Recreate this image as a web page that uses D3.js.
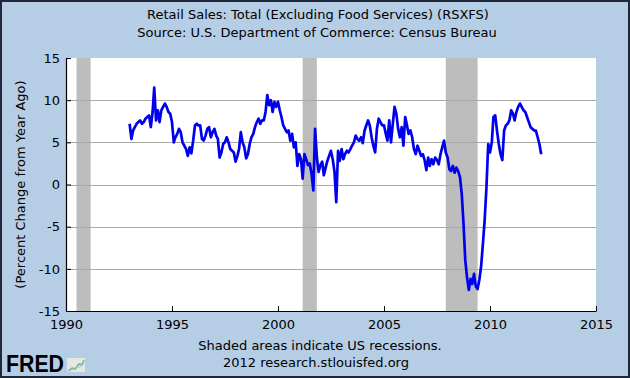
<!DOCTYPE html>
<html>
<head>
<meta charset="utf-8">
<script src="https://cdn.jsdelivr.net/npm/d3@7"></script>
<style>
  body { margin: 0; padding: 0; background: #ffffff; }
  text { font-family: "DejaVu Sans", Verdana, sans-serif; fill: #000000; }
</style>
</head>
<body>
<div id="chart"></div>
<script>
// monthly data starts Jan 1993
var startYear = 1993;

// percent change from year ago, one row per year
var pctChange = [
  7.2, 5.4, 6.4, 6.8, 7.2, 7.4, 7.6, 7.2, 7.4, 7.8, 8.0, 8.2,        // 1993
  6.8, 8.6, 11.5, 7.6, 8.8, 7.4, 8.8, 9.2, 9.6, 9.2, 8.6, 8.4,       // 1994
  7.4, 5.0, 5.6, 6.0, 6.6, 6.2, 5.0, 4.6, 4.2, 3.4, 4.4, 3.7,        // 1995
  5.2, 7.0, 7.2, 7.0, 7.0, 5.4, 5.2, 5.8, 6.6, 6.8, 5.6, 6.2,        // 1996
  6.6, 5.8, 5.4, 3.2, 3.8, 4.8, 5.0, 5.6, 5.0, 4.2, 4.0, 3.8,        // 1997
  2.7, 3.4, 4.2, 6.2, 5.0, 4.4, 3.1, 3.6, 4.8, 5.6, 6.0, 6.8,        // 1998
  7.4, 7.8, 7.2, 7.6, 7.6, 8.6, 10.6, 9.4, 10.0, 8.6, 9.8, 9.2,      // 1999
  9.8, 8.8, 8.0, 7.0, 6.6, 6.2, 6.4, 5.2, 6.0, 4.4, 5.0, 2.2,        // 2000
  3.6, 3.0, 0.7, 3.6, 3.0, 2.3, 2.5, 1.3, -0.7, 6.6, 3.2, 1.5,       // 2001
  2.3, 2.7, 1.1, 2.0, 2.8, 3.4, 4.0, 3.0, 1.5, -2.1, 4.0, 2.8,       // 2002
  4.2, 3.0, 3.6, 4.0, 3.8, 4.2, 4.6, 5.0, 5.8, 5.4, 5.2, 5.6,        // 2003
  4.9, 6.4, 7.0, 7.6, 7.0, 5.6, 4.6, 3.8, 6.6, 7.8, 7.4, 7.0,        // 2004
  7.0, 6.0, 5.2, 7.6, 5.0, 7.2, 9.2, 8.4, 6.6, 5.6, 6.8, 4.6,        // 2005
  8.0, 7.0, 6.0, 6.4, 5.6, 4.2, 3.6, 4.6, 4.0, 3.4, 3.6, 2.9,        // 2006
  1.7, 3.2, 2.2, 3.0, 2.4, 3.2, 2.9, 2.4, 3.6, 4.4, 5.2, 3.8,        // 2007
  3.2, 1.8, 1.6, 2.2, 1.4, 2.0, 1.6, 0.9, -1.1, -4.6, -9.0, -11.0,   // 2008
  -12.5, -11.2, -11.8, -10.6, -12.1, -12.4, -11.3, -9.7, -7.0, -4.2, -0.3, 4.8, // 2009
  3.8, 5.0, 8.0, 8.2, 6.4, 4.8, 3.6, 2.9, 6.4, 7.0, 7.2, 7.6,        // 2010
  8.8, 8.4, 7.6, 8.6, 9.2, 9.6, 9.2, 8.8, 8.6, 8.0, 7.4, 6.8,        // 2011
  6.6, 6.4, 6.4, 5.6, 4.8, 3.6                                       // 2012
];

// US recessions (NBER)
var recessionStart = ["1990-07-01", "2001-03-01", "2007-12-01"];
var recessionEnd = ["1991-03-01", "2001-11-01", "2009-06-01"];

// axis ticks
var xTickYears = [1990, 1995, 2000, 2005, 2010, 2015];
var yTickValues = [-15, -10, -5, 0, 5, 10, 15];
var gridValues = [-10, -5, 0, 5, 10];

var svgWidth = 630;
var svgHeight = 378;

var plot = { left: 66, right: 596, top: 58, bottom: 311 };

var svg = d3.select("#chart")
  .append("svg")
  .attr("width", svgWidth)
  .attr("height", svgHeight);

// blue background with dark frame
svg.append("rect")
  .attr("x", 1)
  .attr("y", 1)
  .attr("width", svgWidth - 2)
  .attr("height", svgHeight - 2)
  .attr("fill", "#b5cde5")
  .attr("stroke", "#1e2838")
  .attr("stroke-width", 2);

var parseDate = d3.timeParse("%Y-%m-%d");

var data = pctChange.map(function(v, i) {
  return { date: new Date(startYear, i, 1), value: v };
});

var xScale = d3.scaleTime()
  .domain([new Date(1990, 0, 1), new Date(2015, 0, 1)])
  .range([plot.left, plot.right]);

var yScale = d3.scaleLinear()
  .domain([-15, 15])
  .range([plot.bottom, plot.top]);

// plot area
svg.append("rect")
  .attr("x", plot.left)
  .attr("y", plot.top)
  .attr("width", plot.right - plot.left)
  .attr("height", plot.bottom - plot.top)
  .attr("fill", "#ffffff");

// recession shading
svg.append("g")
  .selectAll("rect")
  .data(recessionStart)
  .enter()
  .append("rect")
  .attr("x", d => xScale(parseDate(d)))
  .attr("y", plot.top)
  .attr("width", (d, i) => xScale(parseDate(recessionEnd[i])) - xScale(parseDate(d)))
  .attr("height", plot.bottom - plot.top)
  .attr("fill", "#bdbdbd");

// grid lines
svg.append("g")
  .selectAll("line")
  .data(gridValues)
  .enter()
  .append("line")
  .attr("x1", plot.left)
  .attr("x2", plot.right)
  .attr("y1", d => Math.round(yScale(d)) + 0.5)
  .attr("y2", d => Math.round(yScale(d)) + 0.5)
  .attr("stroke", "#a9a9a9")
  .attr("stroke-width", 1);

// y axis, ticks pointing inward (plain hyphen for negatives)
var leftAxis = d3.axisLeft(yScale)
  .tickValues(yTickValues)
  .tickSizeInner(-5)
  .tickSizeOuter(0)
  .tickPadding(6)
  .tickFormat(d => String(d));

var yAxis = svg.append("g")
  .attr("transform", `translate(${plot.left}, 0)`)
  .call(leftAxis);

// x axis, ticks pointing inward
var bottomAxis = d3.axisBottom(xScale)
  .tickValues(xTickYears.map(y => new Date(y, 0, 1)))
  .tickSizeInner(-5)
  .tickSizeOuter(0)
  .tickPadding(9)
  .tickFormat(d3.timeFormat("%Y"));

var xAxis = svg.append("g")
  .attr("transform", `translate(0, ${plot.bottom})`)
  .call(bottomAxis);

[xAxis, yAxis].forEach(function(ax) {
  ax.select(".domain").attr("stroke", "#000000").attr("stroke-width", 1.2);
  ax.selectAll(".tick line").attr("stroke", "#000000");
  ax.selectAll(".tick text")
    .style("font-family", "'DejaVu Sans', Verdana, sans-serif")
    .style("font-size", "13px")
    .attr("fill", "#000000");
});

// the series line
var lineGen = d3.line()
  .x(d => xScale(d.date))
  .y(d => yScale(d.value));

svg.append("path")
  .datum(data)
  .attr("d", lineGen)
  .attr("fill", "none")
  .attr("stroke", "#0000ee")
  .attr("stroke-width", 2.7)
  .attr("stroke-linejoin", "round");

// titles
svg.append("text")
  .attr("x", 318)
  .attr("y", 19)
  .attr("text-anchor", "middle")
  .style("font-size", "13px")
  .text("Retail Sales: Total (Excluding Food Services) (RSXFS)");

svg.append("text")
  .attr("x", 317)
  .attr("y", 37)
  .attr("text-anchor", "middle")
  .style("font-size", "13px")
  .text("Source: U.S. Department of Commerce: Census Bureau");

// y axis label
svg.append("text")
  .attr("transform", "rotate(-90)")
  .attr("x", 0 - (plot.top + plot.bottom) / 2)
  .attr("y", 25)
  .attr("text-anchor", "middle")
  .style("font-size", "13px")
  .text("(Percent Change from Year Ago)");

// footer notes
svg.append("text")
  .attr("x", 320)
  .attr("y", 350)
  .attr("text-anchor", "middle")
  .style("font-size", "13px")
  .text("Shaded areas indicate US recessions.");

svg.append("text")
  .attr("x", 316)
  .attr("y", 367)
  .attr("text-anchor", "middle")
  .style("font-size", "13px")
  .text("2012 research.stlouisfed.org");

// FRED logo
svg.append("text")
  .attr("x", 6)
  .attr("y", 372)
  .attr("textLength", 58)
  .attr("lengthAdjust", "spacingAndGlyphs")
  .style("font-family", "'Liberation Sans', Arial, sans-serif")
  .style("font-weight", "bold")
  .style("font-size", "23px")
  .text("FRED");

var icon = svg.append("g").attr("transform", "translate(67, 358)");
icon.append("rect")
  .attr("width", 18)
  .attr("height", 14)
  .attr("fill", "#e4e8e4");
icon.append("polyline")
  .attr("points", "1,13 5,10 8,11 12,6 15,7 17,2")
  .attr("fill", "none")
  .attr("stroke", "#7fae7f")
  .attr("stroke-width", 1.5);
icon.append("polyline")
  .attr("points", "1,13 5,12 9,9 13,9 17,5")
  .attr("fill", "none")
  .attr("stroke", "#a9c4d8")
  .attr("stroke-width", 1);
</script>
</body>
</html>
